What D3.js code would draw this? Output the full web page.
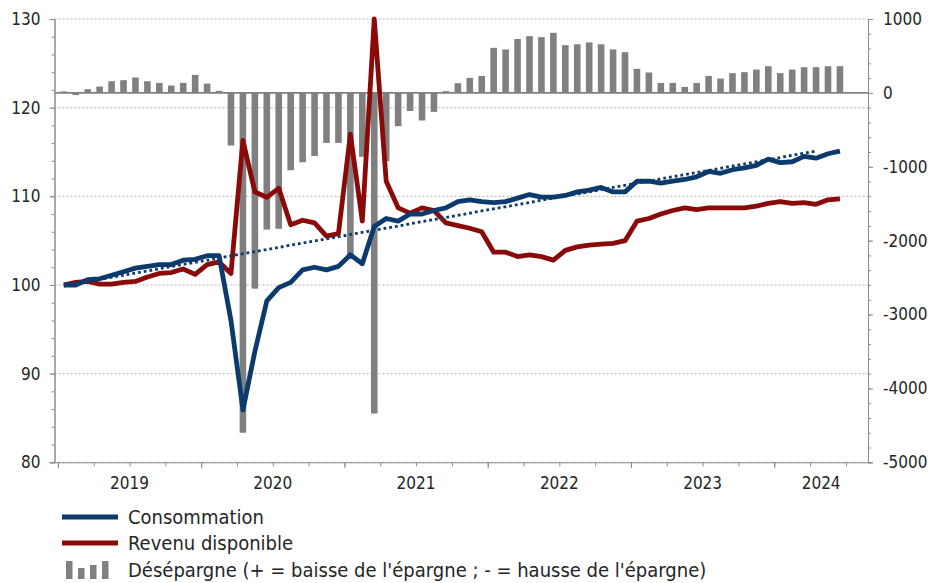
<!DOCTYPE html>
<html>
<head>
<meta charset="utf-8">
<script src="https://cdn.jsdelivr.net/npm/d3@7"></script>
<style>
  body { margin: 0; background: #fff; }
  svg text { font-family: "DejaVu Sans Condensed", "DejaVu Sans", sans-serif; fill: #262626; }
</style>
</head>
<body>
<svg id="chart" width="930" height="583"></svg>
<script>
// monthly data, Jan 2019 -> Jun 2024
const months = d3.timeMonth.range(new Date(2019, 0, 1), new Date(2024, 6, 1));
const years = ["2019", "2020", "2021", "2022", "2023", "2024"];

// consumption index (left axis)
const consommation = [
  100.0, 100.0, 100.6, 100.7, 101.1, 101.5, 101.9, 102.1, 102.3, 102.3, 102.8, 102.9,
  103.3, 103.3, 96.0, 85.9, 92.5, 98.2, 99.7, 100.3, 101.7, 102.0, 101.7, 102.1,
  103.4, 102.4, 106.6, 107.5, 107.2, 108.0, 108.0, 108.4, 108.7, 109.4, 109.6, 109.4,
  109.3, 109.4, 109.8, 110.2, 109.9, 109.9, 110.1, 110.5, 110.7, 111.0, 110.5, 110.5,
  111.7, 111.7, 111.5, 111.7, 111.9, 112.2, 112.8, 112.6, 113.0, 113.2, 113.5, 114.2,
  113.8, 113.9, 114.5, 114.3, 114.8, 115.1
];

// disposable income index (left axis)
const revenu = [
  100.0, 100.3, 100.4, 100.1, 100.1, 100.3, 100.4, 100.9, 101.3, 101.4, 101.8, 101.2,
  102.3, 102.6, 101.3, 116.3, 110.5, 109.9, 110.9, 106.8, 107.3, 107.0, 105.5, 105.8,
  117.0, 107.2, 130.0, 111.7, 108.7, 108.1, 108.7, 108.4, 107.0, 106.7, 106.4, 106.0,
  103.7, 103.7, 103.2, 103.4, 103.2, 102.8, 103.9, 104.3, 104.5, 104.6, 104.7, 105.0,
  107.2, 107.5, 108.0, 108.4, 108.7, 108.5, 108.7, 108.7, 108.7, 108.7, 108.9, 109.2,
  109.4, 109.2, 109.3, 109.1, 109.6, 109.7
];

// dissaving (right axis)
const desepargne = [
  20, -30, 50, 86, 158, 172, 208, 158, 135, 99, 135, 244,
  126, 27, -713, -4600, -2650, -1850, -1840, -1047, -939, -855, -677, -677,
  -2250, -865, -4340, -925, -451, -245, -374, -257, 23, 131, 203, 228,
  610, 588, 729, 768, 754, 813, 646, 658, 683, 658, 588, 551,
  325, 276, 135, 135, 81, 135, 230, 194, 267, 280, 316, 361,
  267, 316, 348, 348, 361, 361
];

// dotted linear trend of consumption: [month index, value]
const tendance = [[0, 99.9], [63, 115.1]];

const legendLabels = [
  "Consommation",
  "Revenu disponible",
  "Désépargne (+ = baisse de l'épargne ; - = hausse de l'épargne)"
];

const C_BLUE = "#0c3a6c", C_RED = "#8a0a0a", C_BAR = "#808080", C_AXIS = "#8c8c8c";

const svg = d3.select("#chart");
const plotL = 54.5, plotR = 868, plotT = 19, plotB = 462.3;

const x = d3.scaleLinear().domain([-0.78, 67.35]).range([plotL, plotR]);
const yL = d3.scaleLinear().domain([80, 130]).range([plotB, plotT]);
const yR = d3.scaleLinear().domain([-5000, 1000]).range([plotB, plotT]);

// gridlines
svg.append("g").selectAll("line")
  .data(d3.range(80, 131, 10))
  .join("line")
  .attr("x1", plotL).attr("x2", plotR)
  .attr("y1", d => yL(d)).attr("y2", d => yL(d))
  .attr("stroke", "#b0b0b0").attr("stroke-width", 1)
  .attr("stroke-dasharray", "2,2");

// bars
const bw = 6.6;
svg.append("g").selectAll("rect")
  .data(desepargne)
  .join("rect")
  .attr("x", (d, i) => x(i) - bw / 2)
  .attr("width", bw)
  .attr("y", d => yR(Math.max(0, d)))
  .attr("height", d => Math.abs(yR(d) - yR(0)))
  .attr("fill", C_BAR);

// zero line of the bars
svg.append("line")
  .attr("x1", plotL).attr("x2", plotR)
  .attr("y1", yR(0)).attr("y2", yR(0))
  .attr("stroke", C_BAR).attr("stroke-width", 1.6);

const line = d3.line().x((d, i) => x(i)).y(d => yL(d));

svg.append("path").datum(revenu)
  .attr("d", line)
  .attr("fill", "none").attr("stroke", C_RED)
  .attr("stroke-width", 4.8).attr("stroke-linejoin", "round");

svg.append("path").datum(consommation)
  .attr("d", line)
  .attr("fill", "none").attr("stroke", C_BLUE)
  .attr("stroke-width", 4.8).attr("stroke-linejoin", "round");

svg.append("path").datum(tendance)
  .attr("d", d3.line().x(d => x(d[0])).y(d => yL(d[1])))
  .attr("fill", "none").attr("stroke", C_BLUE)
  .attr("stroke-width", 2.8).attr("stroke-dasharray", "2.8,3");

// axes
function styleAxis(g) {
  g.selectAll(".domain").attr("stroke", C_AXIS);
  g.selectAll(".tick line").attr("stroke", C_AXIS);
  g.selectAll(".tick text").attr("font-size", 17).attr("fill", "#262626")
    .attr("font-family", "DejaVu Sans Condensed, DejaVu Sans, sans-serif");
}

// left: minor + major
svg.append("g").attr("transform", `translate(${plotL},0)`)
  .call(d3.axisLeft(yL).tickValues(d3.range(80, 131, 2)).tickSize(3).tickFormat(""))
  .call(styleAxis);
svg.append("g").attr("transform", `translate(${plotL},0)`)
  .call(d3.axisLeft(yL).tickValues(d3.range(80, 131, 10)).tickSize(5).tickPadding(9))
  .call(styleAxis);

// right: minor + major
svg.append("g").attr("transform", `translate(${plotR},0)`)
  .call(d3.axisRight(yR).tickValues(d3.range(-5000, 1001, 200)).tickSize(3).tickFormat(""))
  .call(styleAxis);
svg.append("g").attr("transform", `translate(${plotR},0)`)
  .call(d3.axisRight(yR).tickValues(d3.range(-5000, 1001, 1000)).tickSize(5).tickPadding(10)
    .tickFormat(d => String(d)))
  .call(styleAxis);

// bottom: quarter ticks, year ticks, centred year labels
const quarterTicks = d3.range(-0.5, months.length, 3);
const yearTicks = d3.range(-0.5, months.length, 12);
svg.append("g").attr("transform", `translate(0,${plotB})`)
  .call(d3.axisBottom(x).tickValues(quarterTicks).tickSize(4).tickFormat("").tickSizeOuter(0))
  .call(styleAxis);
svg.append("g").attr("transform", `translate(0,${plotB})`)
  .call(d3.axisBottom(x).tickValues(yearTicks).tickSize(6).tickFormat("").tickSizeOuter(0))
  .call(g => g.select(".domain").remove())
  .call(styleAxis);

svg.append("g").selectAll("text")
  .data(years)
  .join("text")
  .attr("x", (d, i) => {
    const a = Math.max(plotL, x(-0.5 + 12 * i));
    const b = Math.min(plotR, x(11.5 + 12 * i));
    return (a + b) / 2;
  })
  .attr("y", 483)
  .attr("dy", "0.35em")
  .attr("text-anchor", "middle")
  .attr("font-size", 17)
  .text(d => d);

// legend
const lg = svg.append("g");
const ly = [517, 543, 570];
lg.append("line").attr("x1", 62).attr("x2", 118).attr("y1", ly[0]).attr("y2", ly[0])
  .attr("stroke", C_BLUE).attr("stroke-width", 5);
lg.append("line").attr("x1", 62).attr("x2", 118).attr("y1", ly[1]).attr("y2", ly[1])
  .attr("stroke", C_RED).attr("stroke-width", 5);
const iconBars = [18, 11, 14, 18];
lg.append("g").selectAll("rect")
  .data(iconBars)
  .join("rect")
  .attr("x", (d, i) => 66 + i * 12)
  .attr("width", 6.5)
  .attr("y", d => ly[2] + 9 - d)
  .attr("height", d => d)
  .attr("fill", C_BAR);
lg.selectAll("text.lab")
  .data(legendLabels)
  .join("text")
  .attr("class", "lab")
  .attr("x", 128)
  .attr("y", (d, i) => ly[i])
  .attr("dy", "0.35em")
  .attr("font-size", 20)
  .text(d => d);
</script>
</body>
</html>
